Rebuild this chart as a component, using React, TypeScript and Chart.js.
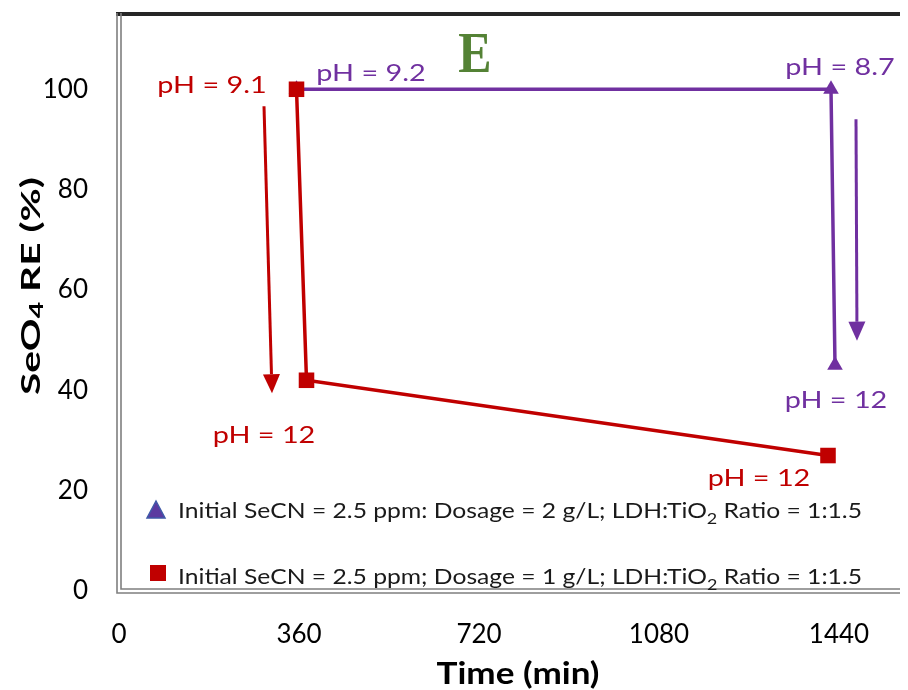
import { useEffect, useRef } from 'react';
import { Chart, registerables } from 'chart.js';

Chart.register(...registerables);

// ---- data ----
const redTimes = [355, 375, 1418];
const redValues = [100, 42, 27];
const purpleTimes = [355, 1424, 1432];
const purpleValues = [100, 100, 45];
const xTickValues = [0, 360, 720, 1080, 1440];
const yTickValues = [0, 20, 40, 60, 80, 100];

const seriesNames = [
  [{ t: 'Initial SeCN = 2.5 ppm: Dosage = 2 g/L; LDH:TiO' }, { t: '2', sub: true }, { t: ' Ratio = 1:1.5' }],
  [{ t: 'Initial SeCN = 2.5 ppm; Dosage = 1 g/L; LDH:TiO' }, { t: '2', sub: true }, { t: ' Ratio = 1:1.5' }],
];

const phTexts = ['pH = 9.1', 'pH = 9.2', 'pH = 8.7', 'pH = 12', 'pH = 12', 'pH = 12'];
const phTimes = [186, 504, 1442, 290, 1434, 1280];
const phValues = [99.2, 101.6, 102.8, 29.4, 36.4, 20.9];
const phSeries = ['red', 'purple', 'purple', 'red', 'purple', 'red'];

const arrowFromTimes = [290, 1474];
const arrowFromValues = [96.6, 94];
const arrowToTimes = [306, 1476];
const arrowToValues = [39.4, 49.9];
const arrowSeries = ['red', 'purple'];

const panelLetter = 'E';
const panelTime = 712;
const panelValue = 103.5;

const RED = '#c00000';
const PURPLE = '#7030a0';
const GREEN = '#548235';
const colorOf = (s: string) => (s === 'red' ? RED : PURPLE);

type Seg = { t: string; sub?: boolean };

function segWidths(ctx: CanvasRenderingContext2D, segs: Seg[], font: string, subFont: string) {
  return segs.map((s) => {
    ctx.font = s.sub ? subFont : font;
    return ctx.measureText(s.t).width;
  });
}

function drawSegs(
  ctx: CanvasRenderingContext2D,
  segs: Seg[],
  font: string,
  subFont: string,
  subShift: number,
  x: number,
  y: number,
  opts: { align: 'left' | 'center'; targetWidth?: number; scaleX?: number; rotate?: number; color: string; baseline?: CanvasTextBaseline }
) {
  const ws = segWidths(ctx, segs, font, subFont);
  const total = ws.reduce((a, b) => a + b, 0);
  const sx = opts.targetWidth ? opts.targetWidth / total : opts.scaleX ?? 1;
  ctx.save();
  ctx.translate(x, y);
  if (opts.rotate) ctx.rotate(opts.rotate);
  ctx.scale(sx, 1);
  ctx.fillStyle = opts.color;
  ctx.textAlign = 'left';
  ctx.textBaseline = opts.baseline ?? 'alphabetic';
  let cx = opts.align === 'center' ? -total / 2 : 0;
  segs.forEach((s, i) => {
    ctx.font = s.sub ? subFont : font;
    ctx.fillText(s.t, cx, s.sub ? subShift : 0);
    cx += ws[i];
  });
  ctx.restore();
}

const decorPlugin = {
  id: 'decor',
  afterDraw(chart: any) {
    const ctx: CanvasRenderingContext2D = chart.ctx;
    const { left, right, top, bottom } = chart.chartArea;
    const xs = chart.scales.x;
    const ys = chart.scales.y;

    // frame
    ctx.save();
    ctx.strokeStyle = '#262626';
    ctx.lineWidth = 4;
    ctx.beginPath();
    ctx.moveTo(left - 3, top);
    ctx.lineTo(right, top);
    ctx.stroke();
    ctx.strokeStyle = '#7f7f7f';
    ctx.lineWidth = 1.6;
    [-2, 2].forEach((d) => {
      ctx.beginPath();
      ctx.moveTo(left + d, top - 1);
      ctx.lineTo(left + d, bottom - d);
      ctx.lineTo(right, bottom - d);
      ctx.stroke();
    });
    ctx.restore();

    // arrows
    arrowFromTimes.forEach((_, i) => {
      const x1 = xs.getPixelForValue(arrowFromTimes[i]);
      const y1 = ys.getPixelForValue(arrowFromValues[i]);
      const x2 = xs.getPixelForValue(arrowToTimes[i]);
      const y2 = ys.getPixelForValue(arrowToValues[i]);
      const ang = Math.atan2(y2 - y1, x2 - x1);
      const head = 19;
      const half = 8.5;
      const bx = x2 - Math.cos(ang) * head;
      const by = y2 - Math.sin(ang) * head;
      ctx.save();
      ctx.strokeStyle = colorOf(arrowSeries[i]);
      ctx.fillStyle = colorOf(arrowSeries[i]);
      ctx.lineWidth = 3;
      ctx.beginPath();
      ctx.moveTo(x1, y1);
      ctx.lineTo(bx, by);
      ctx.stroke();
      ctx.beginPath();
      ctx.moveTo(x2, y2);
      ctx.lineTo(bx + Math.sin(ang) * half, by - Math.cos(ang) * half);
      ctx.lineTo(bx - Math.sin(ang) * half, by + Math.cos(ang) * half);
      ctx.closePath();
      ctx.fill();
      ctx.restore();
    });

    // pH labels
    phTexts.forEach((t, i) => {
      drawSegs(ctx, [{ t }], '24px Lato', '24px Lato', 0, xs.getPixelForValue(phTimes[i]), ys.getPixelForValue(phValues[i]), {
        align: 'center',
        scaleX: 1.2,
        color: colorOf(phSeries[i]),
      });
    });

    // panel letter
    drawSegs(ctx, [{ t: panelLetter }], 'bold 58px "Liberation Serif"', 'bold 58px "Liberation Serif"', 0,
      xs.getPixelForValue(panelTime), ys.getPixelForValue(panelValue), { align: 'center', scaleX: 0.86, color: GREEN });

    // legend
    const lx = left + 36;
    const legendY = [bottom - 73, bottom - 7];
    ctx.save();
    ctx.beginPath();
    const tcx = left + 37, tcy = bottom - 81;
    ctx.moveTo(tcx, tcy - 9);
    ctx.lineTo(tcx + 9, tcy + 8);
    ctx.lineTo(tcx - 9, tcy + 8);
    ctx.closePath();
    ctx.fillStyle = '#5b3aa0';
    ctx.fill();
    ctx.strokeStyle = '#3f5aa8';
    ctx.lineWidth = 1.5;
    ctx.stroke();
    ctx.fillStyle = RED;
    ctx.fillRect(left + 31, bottom - 26, 16, 16);
    ctx.restore();
    seriesNames.forEach((segs, i) => {
      drawSegs(ctx, segs, '22px Lato', '16px Lato', 6, lx + 23, legendY[i], {
        align: 'left',
        targetWidth: 684,
        color: '#1a1a1a',
      });
    });

    // axis titles
    drawSegs(ctx, [{ t: 'SeO' }, { t: '4', sub: true }, { t: ' RE (%)' }], 'bold 27px Lato', 'bold 19px Lato', 6,
      23, 278, { align: 'center', rotate: -Math.PI / 2, targetWidth: 218, color: '#000', baseline: 'middle' });
    drawSegs(ctx, [{ t: 'Time (min)' }], 'bold 30px Lato', 'bold 30px Lato', 0,
      510, 676, { align: 'center', targetWidth: 163, color: '#000' });
  },
};

function zeroPadding(s: any) {
  s.paddingTop = 0;
  s.paddingBottom = 0;
  s.paddingLeft = 0;
  s.paddingRight = 0;
}

export default function App() {
  const ref = useRef<HTMLCanvasElement | null>(null);
  useEffect(() => {
    if (!ref.current) return;
    const chart = new Chart(ref.current, {
      type: 'scatter',
      data: {
        datasets: [
          {
            label: 'red',
            data: redTimes.map((x, i) => ({ x, y: redValues[i] })),
            showLine: true,
            borderColor: RED,
            backgroundColor: RED,
            borderWidth: 3.5,
            pointStyle: 'rect',
            pointRadius: 11,
            pointBorderWidth: 0,
          },
          {
            label: 'purple',
            data: purpleTimes.map((x, i) => ({ x, y: purpleValues[i] })),
            showLine: true,
            borderColor: PURPLE,
            backgroundColor: PURPLE,
            borderWidth: 3.5,
            pointStyle: 'triangle',
            pointRadius: 9,
            pointBorderWidth: 0,
          },
        ],
      },
      options: {
        responsive: false,
        animation: false,
        events: [],
        layout: { autoPadding: false, padding: { top: 6, right: 9, left: 0, bottom: 0 } },
        plugins: { legend: { display: false }, tooltip: { enabled: false } },
        scales: {
          x: {
            type: 'linear',
            min: 0,
            max: 1620,
            grid: { display: false, drawTicks: false },
            border: { display: false },
            ticks: {
              font: { family: 'Lato', size: 26 },
              color: '#000',
              padding: 28,
              maxRotation: 0,
              callback: (v: any) => String(v),
            },
            afterBuildTicks: (s: any) => {
              s.ticks = xTickValues.map((v) => ({ value: v }));
            },
            afterFit: (s: any) => {
              s.height = 99;
              zeroPadding(s);
            },
          },
          y: {
            type: 'linear',
            min: 0,
            max: 115,
            grid: { display: false, drawTicks: false },
            border: { display: false },
            ticks: { font: { family: 'Lato', size: 26 }, color: '#000', padding: 31, callback: (v: any) => String(v) },
            afterBuildTicks: (s: any) => {
              s.ticks = yTickValues.map((v) => ({ value: v }));
            },
            afterFit: (s: any) => {
              s.width = 111;
              zeroPadding(s);
            },
          },
        },
      },
      plugins: [decorPlugin],
    });
    return () => chart.destroy();
  }, []);
  return (
    <div style={{ width: 900, height: 682, overflow: 'hidden', background: '#fff' }}>
      <canvas ref={ref} width={930} height={682} style={{ display: 'block' }} />
    </div>
  );
}
